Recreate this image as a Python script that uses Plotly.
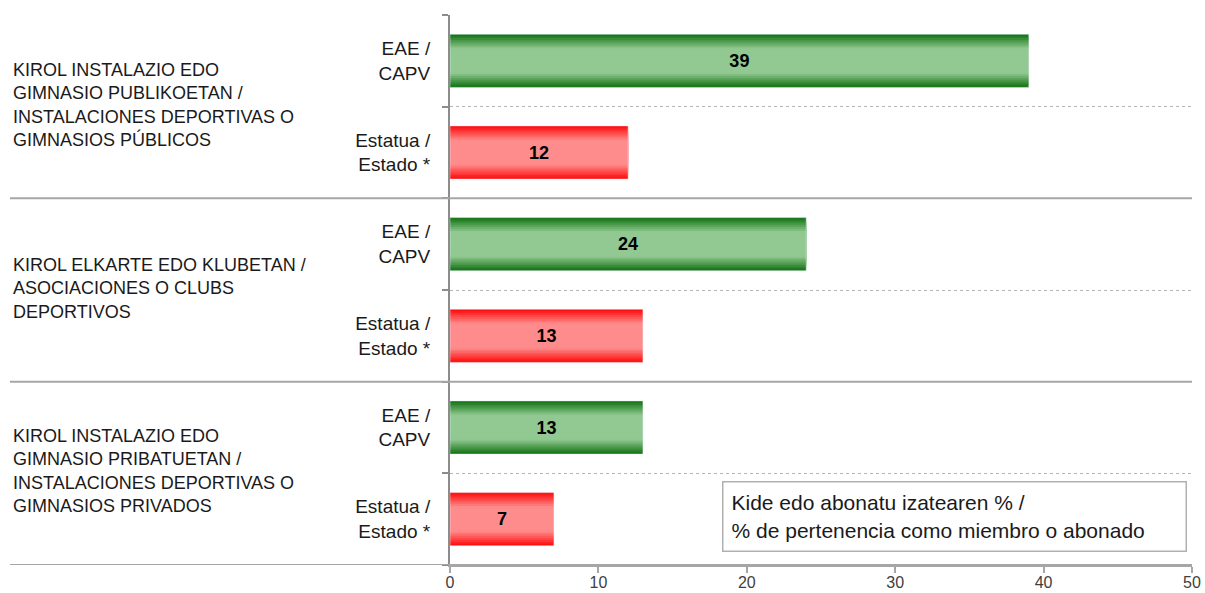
import numpy as np
import plotly.graph_objects as go

# data
groups = [
    "KIROL INSTALAZIO EDO<br>GIMNASIO PUBLIKOETAN /<br>INSTALACIONES DEPORTIVAS O<br>GIMNASIOS PÚBLICOS",
    "KIROL ELKARTE EDO KLUBETAN /<br>ASOCIACIONES O CLUBS<br>DEPORTIVOS",
    "KIROL INSTALAZIO EDO<br>GIMNASIO PRIBATUETAN /<br>INSTALACIONES DEPORTIVAS O<br>GIMNASIOS PRIVADOS",
]
series = ["EAE /<br>CAPV", "Estatua /<br>Estado *"]
eae = [39, 24, 13]
estado = [12, 13, 7]
x_ticks = [0, 10, 20, 30, 40, 50]
note = "Kide edo abonatu izatearen % /<br>% de pertenencia como miembro o abonado"

FONT = "Liberation Sans, Arial, sans-serif"

# one row per bar, top to bottom
values = []
labels = []
kinds = []
for g in range(len(groups)):
    values += [eae[g], estado[g]]
    labels += series
    kinds += [0, 1]
ypos = np.arange(len(values))

# gradient end colours (edge, centre) per series
edge = [(22, 118, 22), (255, 16, 16)]
centre = [(146, 201, 146), (255, 140, 140)]

fig = go.Figure()

# fake vertical gradient: stacked overlay bars, narrower and lighter
n_layers = 14
bar_w = 0.58
for k in range(n_layers):
    t = min(1.0, (k / (n_layers - 1)) / 0.55)
    cols = []
    for s in kinds:
        c = [round(edge[s][i] + (centre[s][i] - edge[s][i]) * t) for i in range(3)]
        cols.append("rgb(%d,%d,%d)" % tuple(c))
    fig.add_trace(go.Bar(
        x=values, y=ypos, orientation="h",
        width=bar_w * (1 - k / n_layers),
        marker=dict(color=cols, line=dict(width=0)),
        hoverinfo="skip", showlegend=False,
    ))

# value labels on a transparent full-size bar
fig.add_trace(go.Bar(
    x=values, y=ypos, orientation="h", width=bar_w,
    marker=dict(color="rgba(0,0,0,0)"),
    text=values, textposition="inside", insidetextanchor="middle",
    textfont=dict(family=FONT, size=18, color="black", weight="bold"),
    hoverinfo="skip", showlegend=False,
))

# group labels
for g, name in enumerate(groups):
    fig.add_annotation(
        x=-0.589, xref="paper", y=2 * g + 0.5, yref="y",
        text=name, showarrow=False, xanchor="left", yanchor="middle",
        align="left", borderpad=0, xshift=-1, yshift=2,
        font=dict(family=FONT, size=18, color="#1a1a1a"),
    )

# solid separators between groups (extend into the label column)
for g in range(1, len(groups) + 1):
    fig.add_shape(type="line", xref="paper", x0=-0.593, x1=1.0,
                  yref="y", y0=2 * g - 0.5, y1=2 * g - 0.5,
                  line=dict(color="#a6a6a6", width=2))

fig.add_annotation(
    x=0.3666, xref="paper", y=0.024, yref="paper",
    text=note, showarrow=False, xanchor="left", yanchor="bottom",
    align="left", width=446, height=52, valign="middle",
    bordercolor="#b0b0b0", borderwidth=1.5, borderpad=8, bgcolor="white",
    font=dict(family=FONT, size=21, color="#1a1a1a"),
)

fig.update_layout(
    width=1205, height=593,
    margin=dict(l=450, r=13, t=15, b=28, autoexpand=False),
    plot_bgcolor="white", paper_bgcolor="white",
    barmode="overlay",
    xaxis=dict(
        range=[0, 50], tickvals=x_ticks, showgrid=False, zeroline=False,
        automargin=False,
        showline=True, linecolor="#a6a6a6", linewidth=2,
        ticks="outside", ticklen=6, tickcolor="#a6a6a6", tickwidth=1.5,
        ticklabelstandoff=-4,
        tickfont=dict(family=FONT, size=16, color="#404040"),
    ),
    yaxis=dict(
        range=[len(values) - 0.5, -0.5], tickvals=list(ypos), ticktext=labels,
        showgrid=False, zeroline=False, ticks="", ticklabelstandoff=14,
        automargin=False,
        showline=True, linecolor="#8c8c8c", linewidth=2,
        tickfont=dict(family=FONT, size=19, color="#1a1a1a"),
        minor=dict(tick0=0.5, dtick=1, ticks="outside", ticklen=6,
                   tickcolor="#8c8c8c", tickwidth=1.5, showgrid=True,
                   gridcolor="#b4b4b4", griddash="dot", gridwidth=1),
    ),
)

# drop the default page margin so the figure fills the window exactly
fig.write_html(
    "out.html",
    config={"displayModeBar": False},
    post_script="document.body.style.margin='0';document.body.style.overflow='hidden';",
)
